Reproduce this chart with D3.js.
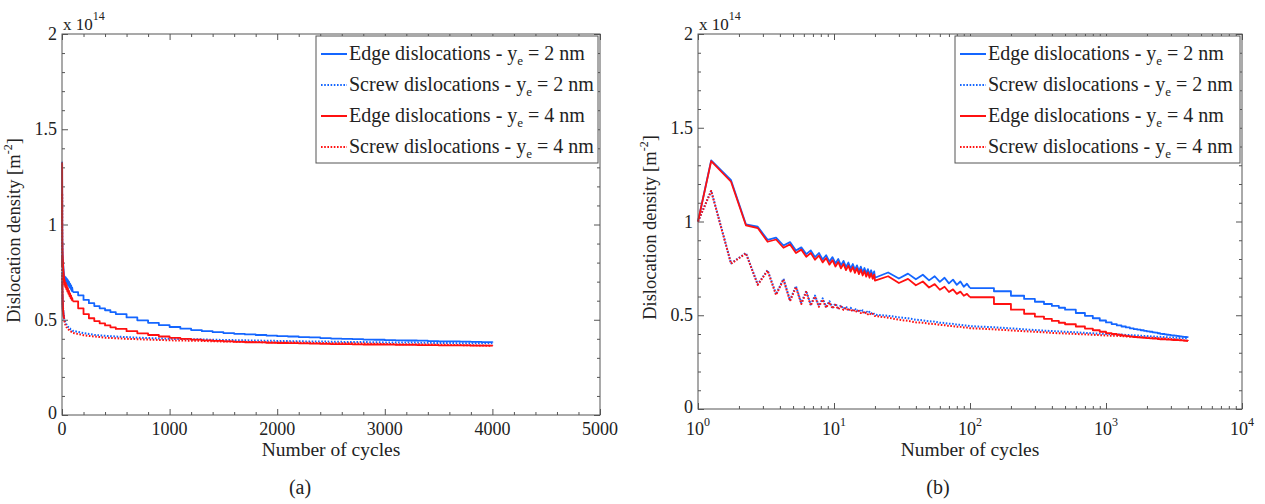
<!DOCTYPE html>
<html><head><meta charset="utf-8">
<script src="https://cdn.jsdelivr.net/npm/d3@7"></script>
<style>
body{margin:0;background:#fff}
</style>
</head><body>
<svg id="chart" width="1265" height="504" font-family="'Liberation Serif','DejaVu Serif',serif"></svg>
<script>
// ---------------- data ----------------
const cycles = [1,1.25,1.75,2.25,2.75,3.25,3.75,4.25,4.75,5.25,5.75,6.25,6.75,7.25,7.75,8.25,8.75,9.25,9.75,10.25,10.75,11.25,11.75,12.25,12.75,13.25,13.75,14.25,14.75,15.25,15.75,16.25,16.75,17.25,17.75,18.25,18.75,19.25,19.75,
  20,25,30,35,40,45,50,55,60,65,70,75,80,85,90,95,100,
  150,200,250,300,350,400,450,500,
  600,700,800,900,1000,1100,1200,1300,1400,1500,1600,1700,1800,1900,2000,2100,2200,2300,2400,2500,
  2600,2700,2800,2900,3000,3100,3200,3300,3400,3500,3600,3700,3800,3900,4000];

const edge2 = [1.0,1.326,1.22,0.985,0.972,0.902,0.914,0.872,0.89,0.845,0.862,0.826,0.846,0.81,0.832,0.797,0.82,0.786,0.81,0.776,0.80,0.766,0.79,0.757,0.781,0.749,0.773,0.742,0.766,0.735,0.759,0.729,0.752,0.722,0.746,0.716,0.740,0.710,0.734,
  0.70,0.728,0.696,0.722,0.692,0.716,0.686,0.708,0.678,0.700,0.670,0.690,0.662,0.680,0.652,0.668,0.645,
  0.628,0.604,0.587,0.572,0.56,0.55,0.54,0.53,
  0.512,0.497,0.484,0.472,0.462,0.453,0.446,0.44,0.435,0.43,0.426,0.423,0.42,0.417,0.414,0.412,0.409,0.407,0.404,0.401,
  0.4,0.398,0.396,0.395,0.393,0.392,0.391,0.39,0.388,0.387,0.386,0.385,0.384,0.383,0.381];

const screw2 = [1.0,1.165,0.777,0.832,0.665,0.741,0.612,0.695,0.58,0.656,0.565,0.63,0.557,0.605,0.55,0.59,0.546,0.575,0.542,0.562,0.538,0.553,0.534,0.546,0.53,0.54,0.526,0.535,0.522,0.53,0.518,0.526,0.515,0.522,0.512,0.518,0.509,0.515,0.506,
  0.503,0.497,0.489,0.484,0.476,0.473,0.468,0.466,0.46,0.459,0.455,0.454,0.45,0.449,0.446,0.445,0.442,
  0.436,0.43,0.425,0.421,0.418,0.416,0.414,0.412,
  0.409,0.406,0.404,0.402,0.4,0.399,0.398,0.397,0.395,0.394,0.393,0.392,0.391,0.39,0.389,0.388,0.387,0.386,0.386,0.385,
  0.384,0.383,0.383,0.382,0.381,0.381,0.38,0.38,0.379,0.378,0.378,0.377,0.377,0.376,0.376];

const edge4 = [1.0,1.322,1.212,0.98,0.965,0.892,0.904,0.86,0.878,0.832,0.85,0.812,0.832,0.796,0.818,0.782,0.805,0.77,0.794,0.76,0.784,0.75,0.774,0.741,0.765,0.733,0.757,0.726,0.75,0.719,0.743,0.712,0.736,0.706,0.729,0.70,0.723,0.694,0.717,
  0.685,0.708,0.672,0.694,0.660,0.680,0.648,0.666,0.636,0.652,0.624,0.638,0.614,0.626,0.604,0.614,0.596,
  0.56,0.53,0.508,0.493,0.481,0.47,0.46,0.452,
  0.44,0.429,0.42,0.412,0.405,0.4,0.396,0.392,0.389,0.386,0.384,0.382,0.381,0.379,0.378,0.377,0.376,0.375,0.373,0.372,
  0.372,0.371,0.37,0.37,0.369,0.368,0.368,0.367,0.367,0.366,0.366,0.365,0.364,0.364,0.363];

const screw4 = [1.0,1.163,0.775,0.83,0.662,0.738,0.608,0.69,0.576,0.65,0.56,0.624,0.552,0.6,0.545,0.584,0.54,0.569,0.536,0.556,0.532,0.547,0.528,0.54,0.524,0.534,0.52,0.529,0.516,0.524,0.512,0.519,0.508,0.515,0.505,0.511,0.502,0.508,0.499,
  0.496,0.487,0.476,0.47,0.462,0.46,0.455,0.453,0.449,0.447,0.443,0.442,0.439,0.438,0.435,0.434,0.431,
  0.425,0.419,0.415,0.412,0.409,0.406,0.404,0.403,
  0.4,0.398,0.396,0.394,0.392,0.391,0.39,0.389,0.387,0.386,0.385,0.384,0.383,0.382,0.381,0.38,0.38,0.379,0.378,0.377,
  0.376,0.376,0.375,0.374,0.373,0.372,0.372,0.371,0.37,0.369,0.368,0.367,0.366,0.365,0.363];

const seriesNames = ["Edge dislocations - y", "Screw dislocations - y", "Edge dislocations - y", "Screw dislocations - y"];
const seriesSuffix = [" = 2 nm", " = 2 nm", " = 4 nm", " = 4 nm"];
const linearTicks = [0,1000,2000,3000,4000,5000];
const logTicks = [1,10,100,1000,10000];
const yTicks = [0,0.5,1,1.5,2];
const xLabel = "Number of cycles";
const panelLabels = ["(a)", "(b)"];

// ---------------- drawing ----------------
const BLUE = "#1466ff", RED = "#ff1010", AX = "#555", TXT = "#222";
const series = [
  {vals: edge2, color: BLUE, dotted: false},
  {vals: screw2, color: BLUE, dotted: true},
  {vals: edge4, color: RED, dotted: false},
  {vals: screw4, color: RED, dotted: true}
];
const stepStart = cycles.indexOf(100);
const svg = d3.select("#chart");

function drawPanel(cfg) {
  const {x0, x1, y0, y1, log, legendX, label, labelX} = cfg;
  const x = log ? d3.scaleLog().domain([1, 1e4]).range([x0, x1])
                : d3.scaleLinear().domain([0, 5000]).range([x0, x1]);
  const y = d3.scaleLinear().domain([0, 2]).range([y1, y0]);
  const g = svg.append("g");

  const majorX = log ? logTicks : linearTicks;
  const minorX = log ? x.ticks().filter(t => !logTicks.includes(t))
                     : d3.range(0, 5001, 200).filter(t => t % 1000 !== 0);
  const minorY = d3.range(0, 2.0001, 0.1).map(v => +v.toFixed(2)).filter(v => !yTicks.includes(v));

  function ax(gen, tr, vals, size) {
    const a = g.append("g").attr("transform", tr)
      .call(gen.tickValues(vals).tickSizeInner(-size).tickSizeOuter(0).tickFormat(""));
    a.select(".domain").remove();
    a.selectAll("line").attr("stroke", AX).attr("stroke-width", 1);
  }
  ax(d3.axisBottom(x), `translate(0,${y1})`, majorX, 6);
  ax(d3.axisBottom(x), `translate(0,${y1})`, minorX, 3);
  ax(d3.axisTop(x), `translate(0,${y0})`, majorX, 6);
  ax(d3.axisTop(x), `translate(0,${y0})`, minorX, 3);
  ax(d3.axisLeft(y), `translate(${x0},0)`, yTicks, 6);
  ax(d3.axisLeft(y), `translate(${x0},0)`, minorY, 3);
  ax(d3.axisRight(y), `translate(${x1},0)`, yTicks, 6);
  ax(d3.axisRight(y), `translate(${x1},0)`, minorY, 3);

  // data lines
  const line = d3.line().x(d => x(d[0])).y(d => y(d[1]));
  const stepLine = d3.line().x(d => x(d[0])).y(d => y(d[1])).curve(d3.curveStepAfter);
  series.forEach(s => {
    const pts = cycles.map((c, i) => [c, s.vals[i]]);
    const segs = s.dotted ? [[pts, line]]
      : [[pts.slice(0, stepStart + 1), line], [pts.slice(stepStart), stepLine]];
    segs.forEach(([p, gen]) => {
      g.append("path").datum(p).attr("d", gen)
        .attr("fill", "none").attr("stroke", s.color)
        .attr("stroke-width", s.dotted ? 2 : 1.8)
        .attr("stroke-dasharray", s.dotted ? "1.6,1.6" : null)
        .attr("stroke-linejoin", "round");
    });
  });

  // frame
  g.append("rect").attr("x", x0).attr("y", y0).attr("width", x1 - x0).attr("height", y1 - y0)
    .attr("fill", "none").attr("stroke", AX).attr("stroke-width", 1);

  // x tick labels
  majorX.forEach(t => {
    const tx = g.append("text").attr("x", x(t)).attr("y", log ? y1 + 26 : y1 + 20)
      .attr("text-anchor", "middle").attr("font-size", 18).attr("fill", TXT);
    if (log) {
      const e = Math.round(Math.log10(t));
      tx.append("tspan").text("10");
      tx.append("tspan").attr("dy", -9).attr("font-size", 12).text(e);
    } else tx.text(t);
  });
  // y tick labels
  yTicks.forEach(t => {
    g.append("text").attr("x", x0 - 5).attr("y", y(t) + (t === 0 ? 4 : 6))
      .attr("text-anchor", "end").attr("font-size", 18).attr("fill", TXT).text(t);
  });
  // exponent
  const ex = g.append("text").attr("x", x0 + 1).attr("y", y0 - 4).attr("font-size", 17).attr("fill", TXT);
  ex.append("tspan").text("x 10");
  ex.append("tspan").attr("dy", -10).attr("font-size", 12).text("14");

  // axis labels
  g.append("text").attr("x", (x0 + x1) / 2).attr("y", 456).attr("text-anchor", "middle")
    .attr("font-size", 19.5).attr("fill", TXT).text(xLabel);
  const yl = g.append("text").attr("transform", `translate(${x0 - 42},${(y0 + y1) / 2 + 6}) rotate(-90)`)
    .attr("text-anchor", "middle").attr("font-size", 18.5).attr("fill", TXT);
  yl.append("tspan").text("Dislocation density [m");
  yl.append("tspan").attr("dy", -8).attr("font-size", 12).text("-2");
  yl.append("tspan").attr("dy", 8).text("]");

  // subplot label
  g.append("text").attr("x", labelX).attr("y", 494).attr("text-anchor", "middle")
    .attr("font-size", 20).attr("fill", TXT).text(label);

  // legend
  const lg = g.append("g");
  lg.append("rect").attr("x", legendX).attr("y", y0 + 2).attr("width", x1 - 2 - legendX).attr("height", 127)
    .attr("fill", "#fff").attr("stroke", AX).attr("stroke-width", 1);
  series.forEach((s, i) => {
    const ly = y0 + 20 + i * 31;
    lg.append("line").attr("x1", legendX + 5).attr("x2", legendX + 31).attr("y1", ly).attr("y2", ly)
      .attr("stroke", s.color).attr("stroke-width", 2)
      .attr("stroke-dasharray", s.dotted ? "1.6,1.6" : null);
    const t = lg.append("text").attr("x", legendX + 33).attr("y", ly + 6).attr("font-size", 20).attr("fill", TXT);
    t.append("tspan").text(seriesNames[i]);
    t.append("tspan").attr("dy", 5).attr("font-size", 13).text("e");
    t.append("tspan").attr("dy", -5).text(seriesSuffix[i]);
  });
}

drawPanel({x0: 62, x1: 600, y0: 34, y1: 415, log: false, legendX: 316, label: panelLabels[0], labelX: 300});
drawPanel({x0: 698, x1: 1242, y0: 34, y1: 409, log: true, legendX: 955, label: panelLabels[1], labelX: 938});
</script>
</body></html>
